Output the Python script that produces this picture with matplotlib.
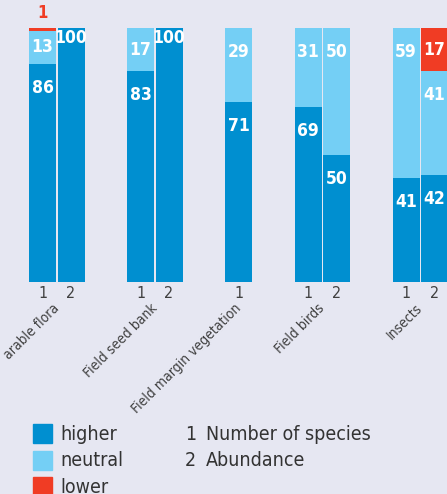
"""
Stacked bars: share of studies with higher / neutral / lower values
"""
import matplotlib.pyplot as plt
from matplotlib.patches import Rectangle

plt.rcParams['font.family'] = ['Liberation Sans Narrow', 'DejaVu Sans']
plt.rcParams['font.stretch'] = 'condensed'

# data
groups = ["arable flora", "Field seed bank", "Field margin vegetation", "Field birds", "Insects"]
bar_ids = [["1", "2"], ["1", "2"], ["1"], ["1", "2"], ["1", "2"]]
higher = [[86, 100], [83, 100], [71], [69, 50], [41, 42]]
neutral = [[13, 0], [17, 0], [29], [31, 50], [59, 41]]
lower = [[1, 0], [0, 0], [0], [0, 0], [0, 17]]

cat_names = ["higher", "neutral", "lower"]
key_ids = ["1", "2"]
key_names = ["Number of species", "Abundance"]

bg = '#e6e7f2'
colors = ['#008fd0', '#74cff5', '#f03c24']

W, H = 447, 494
fig = plt.figure(figsize=(W / 100, H / 100), dpi=100, facecolor=bg)
# axes in pixel x units, percent y
ax = fig.add_axes([0, (H - 282) / H, 1, 254 / H])
ax.set_xlim(0, W)
ax.set_ylim(0, 100)
ax.axis('off')
px = 100 / 254  # one pixel in y units

bw = 27
pitch = 28.5
start = 29
for g in range(len(groups)):
    xs = []
    for b in range(len(bar_ids[g])):
        x = start + b * pitch
        xs.append(x)
        segs = [higher[g][b], neutral[g][b], lower[g][b]]
        bottom = 0
        for k, v in enumerate(segs):
            if v == 0:
                continue
            ax.bar(x, v, width=bw, bottom=bottom, align='edge', color=colors[k], linewidth=0)
            top = bottom + v
            if v < 5:
                # tiny segment: label above the bar
                ax.text(x + bw / 2, top + 6 * px, str(v), color=colors[k], ha='center',
                        va='bottom', fontsize=12, fontweight='bold', clip_on=False)
            else:
                off = 10 * px if v == 100 else min(24 * px, v / 2)
                ax.text(x + bw / 2, top - off, str(v), color='white', ha='center',
                        va='center', fontsize=12.5, fontweight='bold')
            bottom = top
        ax.text(x + bw / 2, -11 * px, bar_ids[g][b], color='#404040', ha='center',
                va='center', fontsize=11.5, clip_on=False)
    center = (xs[0] + xs[-1] + bw) / 2
    ax.text(center + 5, -19 * px, groups[g], color='#404040', rotation=45,
            ha='right', va='top', fontsize=10, clip_on=False)
    start = xs[-1] + bw + 42.5

# legend
for i, name in enumerate(cat_names):
    y = H - (424 + i * 26.5)
    fig.patches.append(Rectangle((33 / W, (y - 19) / H), 19 / W, 19 / H,
                                 transform=fig.transFigure, color=colors[i]))
    fig.text(60 / W, (y - 10) / H, name, color='#333333', fontsize=14,
             va='center', ha='left')
for i, (k, name) in enumerate(zip(key_ids, key_names)):
    y = H - (424 + i * 26.5) - 10
    fig.text(185 / W, y / H, k, color='#333333', fontsize=14, va='center', ha='left')
    fig.text(206 / W, y / H, name, color='#333333', fontsize=14, va='center', ha='left')

plt.savefig("out.png", dpi=100, facecolor=bg)
